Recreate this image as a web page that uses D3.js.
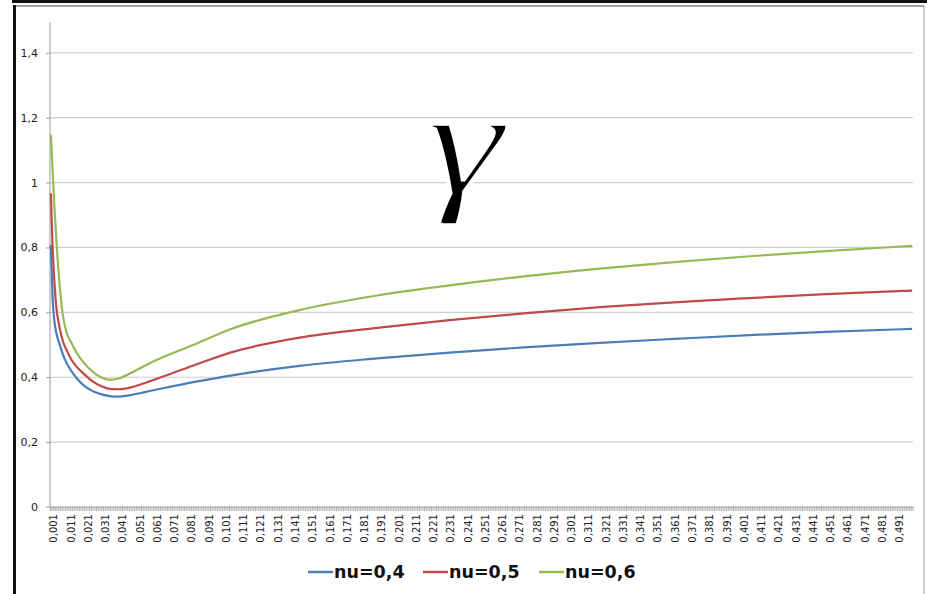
<!DOCTYPE html>
<html><head><meta charset="utf-8">
<script src="https://cdn.jsdelivr.net/npm/d3@7"></script>
<style>body{margin:0;background:#fff}svg{display:block}</style>
</head><body><svg id="c" width="927" height="594"></svg>
<script>
// category axis: 0,001 ... 0,500 (step 0,001), labels every 10th category
const categories = d3.range(1, 501).map(k => (k / 1000).toFixed(3));
const yTicks = [0, 0.2, 0.4, 0.6, 0.8, 1, 1.2, 1.4];
const seriesNames = ["nu=0,4", "nu=0,5", "nu=0,6"];
const seriesColors = ["#4a7ebb", "#be4b48", "#98b954"];
// values at selected categories
const sampleX = ["0.001","0.002","0.003","0.004","0.006","0.008","0.010","0.013","0.016","0.020","0.025","0.030","0.035","0.040","0.047","0.056","0.066","0.086","0.105","0.145","0.190","0.232","0.275","0.319","0.362","0.406","0.450","0.500"];
const nu04 = [0.808,0.645,0.575,0.540,0.503,0.470,0.445,0.418,0.397,0.375,0.358,0.348,0.342,0.340,0.345,0.355,0.366,0.387,0.405,0.435,0.458,0.476,0.492,0.506,0.518,0.530,0.540,0.549];
const nu05 = [0.967,0.800,0.700,0.625,0.555,0.510,0.485,0.453,0.432,0.411,0.388,0.373,0.364,0.363,0.368,0.383,0.402,0.441,0.476,0.522,0.552,0.576,0.597,0.616,0.631,0.644,0.656,0.667];
const nu06 = [1.148,1.040,0.930,0.840,0.690,0.590,0.540,0.505,0.475,0.445,0.418,0.400,0.392,0.396,0.412,0.437,0.462,0.505,0.548,0.607,0.652,0.683,0.711,0.735,0.755,0.773,0.789,0.805];
const seriesValues = [nu04, nu05, nu06];

const svg = d3.select("#c");
const font = "'DejaVu Sans', sans-serif";

// frame
svg.append("rect").attr("x", 12).attr("y", 0).attr("width", 915).attr("height", 3).attr("fill", "#111");
svg.append("line").attr("x1", 14).attr("x2", 924).attr("y1", 6).attr("y2", 6).attr("stroke", "#444").attr("stroke-width", 1.2);
svg.append("line").attr("x1", 924).attr("x2", 924).attr("y1", 6).attr("y2", 594).attr("stroke", "#aaa").attr("stroke-width", 1.2);
svg.append("line").attr("x1", 14.5).attr("x2", 14.5).attr("y1", 5).attr("y2", 594).attr("stroke", "#111").attr("stroke-width", 3);

const x = d3.scaleBand().domain(categories).range([50, 913]).padding(0);
const y = d3.scaleLinear().domain([0, 1.495]).range([507, 22]);

// gridlines
svg.append("g").selectAll("line").data(yTicks.filter(d => d > 0)).join("line")
  .attr("x1", 50).attr("x2", 913).attr("y1", d => y(d)).attr("y2", d => y(d))
  .attr("stroke", "#cfcfcf").attr("stroke-width", 1.2);

// y axis
const yAxis = d3.axisLeft(y).tickValues(yTicks).tickSize(4).tickPadding(8)
  .tickFormat(d => d3.format("")(d).replace(".", ","));
const gy = svg.append("g").attr("transform", "translate(50,0)").call(yAxis);
gy.select(".domain").attr("stroke", "#9a9a9a").attr("d", "M-4," + y(0) + "H0V22");
gy.selectAll(".tick line").attr("stroke", "#9a9a9a");
gy.selectAll("text").attr("font-family", font).attr("font-size", 11).attr("fill", "#222");
gy.selectAll(".tick").filter(d => d === 0).select("line").remove();

// x axis line and tick marks
svg.append("line").attr("x1", 50).attr("x2", 913).attr("y1", y(0)).attr("y2", y(0)).attr("stroke", "#9a9a9a").attr("stroke-width", 1.2);
svg.append("g").selectAll("line").data(categories).join("line")
  .attr("x1", d => x(d) + x.bandwidth()).attr("x2", d => x(d) + x.bandwidth())
  .attr("y1", y(0)).attr("y2", y(0) + 4).attr("stroke", "#9a9a9a").attr("stroke-width", 0.8);
svg.append("line").attr("x1", 50.4).attr("x2", 50.4).attr("y1", y(0)).attr("y2", y(0) + 4).attr("stroke", "#9a9a9a").attr("stroke-width", 0.8);
svg.append("g").selectAll("text").data(categories.filter((d, i) => i % 10 === 0)).join("text")
  .attr("transform", d => `translate(${x(d) + x.bandwidth() / 2 + 3},${y(0) + 7}) rotate(-90)`)
  .attr("text-anchor", "end").attr("dominant-baseline", "central")
  .attr("font-family", font).attr("font-size", 10).attr("fill", "#222")
  .text(d => d.replace(".", ","));

// series lines
const line = d3.line().x(d => x(d[0]) + x.bandwidth() / 2).y(d => y(d[1])).curve(d3.curveMonotoneX);
seriesValues.forEach((vals, i) => {
  svg.append("path").datum(sampleX.map((s, j) => [s, vals[j]]))
    .attr("d", line).attr("fill", "none").attr("stroke", seriesColors[i]).attr("stroke-width", 2.2);
});

// gamma label
svg.append("text").attr("transform", "translate(465,193) scale(1.3,1)").attr("text-anchor", "middle")
  .attr("font-family", "'Liberation Serif', serif").attr("font-style", "italic")
  .attr("font-size", 150).attr("fill", "#000")
  .attr("stroke", "#fff").attr("stroke-width", 3.5)
  .text("γ");

// legend
const legendX = [308, 423, 539];
seriesNames.forEach((n, i) => {
  svg.append("line").attr("x1", legendX[i]).attr("x2", legendX[i] + 25).attr("y1", 572).attr("y2", 572)
    .attr("stroke", seriesColors[i]).attr("stroke-width", 2.5);
  svg.append("text").attr("x", legendX[i] + 26).attr("y", 572).attr("dominant-baseline", "central")
    .attr("font-family", font).attr("font-weight", "bold").attr("font-size", 17.5).attr("fill", "#111").text(n);
});
</script></body></html>
